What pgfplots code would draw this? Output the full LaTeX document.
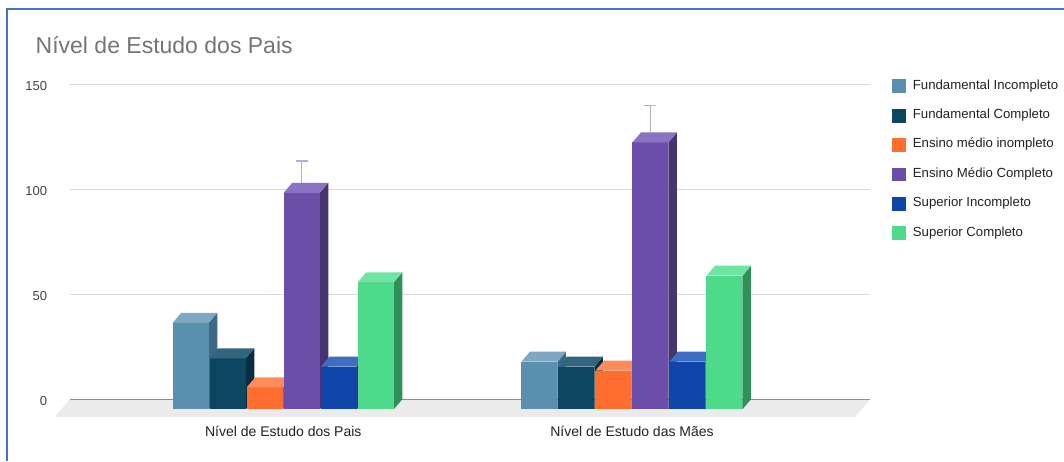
\documentclass[border=0pt]{standalone}
\usepackage{pgfplots}
\usepackage{pgfplotstable}
\pgfplotsset{compat=1.18}
\usepackage{fontspec}
\setmainfont{Liberation Sans}

\definecolor{fiF}{HTML}{5B8FAE}\definecolor{fiS}{HTML}{3E6885}\definecolor{fiT}{HTML}{7DA7C2}
\definecolor{fcF}{HTML}{0D4661}\definecolor{fcS}{HTML}{062D40}\definecolor{fcT}{HTML}{30677F}
\definecolor{emiF}{HTML}{FF6D2F}\definecolor{emiS}{HTML}{C9501E}\definecolor{emiT}{HTML}{FF8B58}
\definecolor{emcF}{HTML}{6A4EA9}\definecolor{emcS}{HTML}{46346F}\definecolor{emcT}{HTML}{8A73C2}
\definecolor{siF}{HTML}{1046AB}\definecolor{siS}{HTML}{0A2E72}\definecolor{siT}{HTML}{3E6DC2}
\definecolor{scF}{HTML}{4DDB8B}\definecolor{scS}{HTML}{2E9158}\definecolor{scT}{HTML}{70E5A3}
\definecolor{titlegray}{HTML}{757575}
\definecolor{ticklab}{HTML}{444444}
\definecolor{txtdark}{HTML}{222222}
\definecolor{gridc}{HTML}{DADADA}
\definecolor{zeroc}{HTML}{8C8C8C}
\definecolor{floorc}{HTML}{EBEBEB}
\definecolor{errc}{HTML}{B7ABDA}
\definecolor{framec}{HTML}{4472C4}

% 3D box mark: anchored at the back-top centre of a group, shifted by \bofs
\newcommand\defbox[1]{%
\pgfdeclareplotmark{box#1}{%
  \pgfscope
  \pgftransformshift{\pgfpoint{\bofs pt}{0pt}}%
  \pgfmathsetmacro\hh{\vv*2.1}%
  \pgfpathmoveto{\pgfpoint{9.5pt}{-10pt}}%
  \pgfpathlineto{\pgfpoint{18pt}{0pt}}%
  \pgfpathlineto{\pgfpoint{18pt}{-\hh pt}}%
  \pgfpathlineto{\pgfpoint{9.5pt}{-10pt-\hh pt}}%
  \pgfpathclose
  \pgfsetfillcolor{#1S}\pgfusepath{fill}%
  \pgfpathrectanglecorners{\pgfpoint{-26.5pt}{-10pt}}{\pgfpoint{9.5pt}{-10pt-\hh pt}}%
  \pgfsetfillcolor{#1F}\pgfusepath{fill}%
  \pgfpathmoveto{\pgfpoint{-26.5pt}{-10pt}}%
  \pgfpathlineto{\pgfpoint{9.5pt}{-10pt}}%
  \pgfpathlineto{\pgfpoint{18pt}{0pt}}%
  \pgfpathlineto{\pgfpoint{-18pt}{0pt}}%
  \pgfpathclose
  \pgfsetfillcolor{#1T}\pgfusepath{fill}%
  \endpgfscope
}}
\defbox{fi}\defbox{fc}\defbox{emi}\defbox{emc}\defbox{si}\defbox{sc}

\pgfplotstableread{
cat fi   fc   emi  emc   si   sc
0   41.2 24.3 10.5 103.1 20.3 60.5
1   22.7 20.3 18.4 127.1 22.7 63.6
}\data

\begin{document}
\begin{tikzpicture}
\useasboundingbox (0pt,0pt) rectangle (1064pt,461pt);
\fill[white] (0pt,0pt) rectangle (1064pt,461pt);
\draw[framec, line width=2pt] (7pt,0pt) -- (7pt,451.7pt) -- (1064pt,451.7pt);
\node[anchor=base west, inner sep=0pt, font=\fontsize{23}{27}\selectfont, text=titlegray] at (35.5pt,407.5pt) {Nível de Estudo dos Pais};
\begin{axis}[
  at={(70pt,61.7pt)}, anchor=south west,
  x=348.7pt, y=2.1pt,
  xmin=-0.636, xmax=1.658, ymin=0, ymax=150,
  clip=false,
  axis line style={draw=none},
  major tick length=0pt,
  tick style={draw=none},
  ytick={0,50,100,150},
  ymajorgrids, grid style={gridc, line width=1pt},
  xtick={0,1},
  xticklabels={Nível de Estudo dos Pais, Nível de Estudo das Mães},
  /pgf/number format/assume math mode=true,
  yticklabel style={anchor=east, inner sep=0pt, xshift=-22.7pt, yshift=-1.4pt, font=\fontsize{13}{15}\selectfont, text=ticklab},
  xticklabel style={anchor=base, inner sep=0pt, xshift=-8.5pt, yshift=-37.4pt, font=\fontsize{14}{16}\selectfont, text=txtdark},
  legend style={at={(axis description cs:1.0271,1.016)}, anchor=north west, draw=none, fill=none, inner sep=0pt,
     font=\fontsize{13.2}{15}\selectfont, text=txtdark, row sep=16.3pt, column sep=8pt,
     nodes={inner sep=0pt, text height=9.5pt, text depth=3.5pt}},
  legend cell align=left,
]
\fill[floorc] (axis cs:-0.636,0) -- (axis cs:1.658,0) -- ([xshift=-15pt,yshift=-17.5pt]axis cs:1.658,0) -- ([xshift=-15pt,yshift=-17.5pt]axis cs:-0.636,0) -- cycle;
\draw[zeroc, line width=1.2pt] (axis cs:-0.636,0) -- (axis cs:1.658,0);

\addplot[only marks, mark=boxfi, visualization depends on={rawy \as \vv}, visualization depends on={value -92.5 \as \bofs},
  legend image code/.code={\fill[fiF] (0pt,-6.35pt) rectangle (12.7pt,6.35pt);}] table[x=cat,y=fi]{\data};
\addlegendentry{Fundamental Incompleto}
\addplot[only marks, mark=boxfc, visualization depends on={rawy \as \vv}, visualization depends on={value -55.5 \as \bofs},
  legend image code/.code={\fill[fcF] (0pt,-6.35pt) rectangle (12.7pt,6.35pt);}] table[x=cat,y=fc]{\data};
\addlegendentry{Fundamental Completo}
\addplot[only marks, mark=boxemi, visualization depends on={rawy \as \vv}, visualization depends on={value -18.5 \as \bofs},
  legend image code/.code={\fill[emiF] (0pt,-6.35pt) rectangle (12.7pt,6.35pt);}] table[x=cat,y=emi]{\data};
\addlegendentry{Ensino médio inompleto}
\addplot[only marks, mark=boxemc, visualization depends on={rawy \as \vv}, visualization depends on={value 18.5 \as \bofs},
  legend image code/.code={\fill[emcF] (0pt,-6.35pt) rectangle (12.7pt,6.35pt);}] table[x=cat,y=emc]{\data};
\addlegendentry{Ensino Médio Completo}
\addplot[only marks, mark=boxsi, visualization depends on={rawy \as \vv}, visualization depends on={value 55.5 \as \bofs},
  legend image code/.code={\fill[siF] (0pt,-6.35pt) rectangle (12.7pt,6.35pt);}] table[x=cat,y=si]{\data};
\addlegendentry{Superior Incompleto}
\addplot[only marks, mark=boxsc, visualization depends on={rawy \as \vv}, visualization depends on={value 92.5 \as \bofs},
  legend image code/.code={\fill[scF] (0pt,-6.35pt) rectangle (12.7pt,6.35pt);}] table[x=cat,y=sc]{\data};
\addlegendentry{Superior Completo}

\addplot[draw=none, mark=none, xshift=10pt, forget plot,
  error bars/.cd, y dir=both, y fixed relative=0.1,
  error bar style={draw=errc, line width=1.3pt},
  error mark options={rotate=90, mark size=6pt, draw=errc, line width=1.3pt}] table[x=cat,y=emc]{\data};
\end{axis}
\end{tikzpicture}
\end{document}
